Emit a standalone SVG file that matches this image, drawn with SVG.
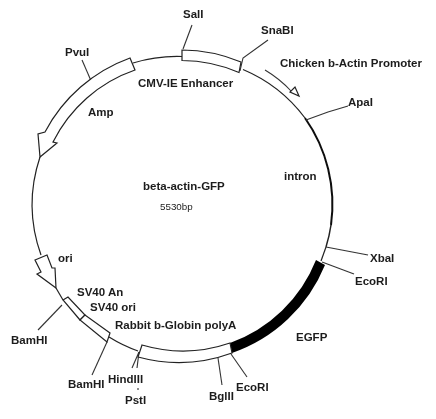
<svg xmlns="http://www.w3.org/2000/svg" width="436" height="419" viewBox="0 0 436 419">
<style>
text{font-family:"Liberation Sans",Arial,sans-serif;font-size:11.5px;font-weight:bold;fill:#1c1c1c}
.l{fill:none;stroke:#333;stroke-width:1.1}
.b{fill:#fff;stroke:#222;stroke-width:1.2;stroke-linejoin:miter}
.c{fill:none;stroke:#222;stroke-width:1.2}
</style>
<defs><filter id="soft" x="0" y="0" width="100%" height="100%"><feGaussianBlur stdDeviation="0.3"/></filter></defs>
<rect width="436" height="419" fill="#fff"/>
<g filter="url(#soft)">
<g id="backbone">
<path class="c" d="M133 63A150 150 0 0 1 182 56.500"/>
<path class="c" d="M243 69.500A150 150 0 0 1 305 118"/>
<path d="M305 118A150 150 0 0 1 331 225" fill="none" stroke="#111" stroke-width="2"/>
<path d="M331 225A150 150 0 0 1 326 247" fill="none" stroke="#222" stroke-width="1.5"/>
<path class="c" d="M326 247L321 261"/>
<path class="c" d="M138 351A150 150 0 0 1 109 337"/>
<path class="c" d="M63 300L56 288"/>
<path class="c" d="M40 157A150 150 0 0 0 41 255"/>
</g>
<g id="connectors">
<path class="l" d="M82 60L92 83"/>
<path class="l" d="M192 25L183 49"/>
<path class="l" d="M268 40L243 58L240 71"/>
<path class="l" d="M348 106L328 112L306 120"/>
<path class="l" d="M368 255L326 247"/>
<path class="l" d="M354 274L322 262"/>
<path class="l" d="M247 377L231 354"/>
<path class="l" d="M222 385L218 358"/>
<path class="l" d="M132 368L139 352"/>
<path class="l" d="M137 368L139 352"/>
<path class="l" d="M138 388V390"/>
<path class="l" d="M38 330L62 305"/>
<path class="l" d="M92 375L107 342"/>
</g>
<g id="Amp"><path class="b" d="M130 58L135 70A144 144 0 0 0 53 142L57 143L40 157L38 134L45 132A156 156 0 0 1 130 58Z"/><text x="88" y="116">Amp</text></g>
<g id="CMV-IE-Enhancer"><path class="b" d="M182 50A156 156 0 0 1 241 62L239 72.500A146 146 0 0 0 182 60.500Z"/><text x="138" y="87">CMV-IE Enhancer</text></g>
<g id="Chicken-b-Actin-Promoter"><path class="l" d="M265 70Q280 79 291 91"/><path class="b" d="M299 96L295 87L290 92Z"/><text x="280" y="67">Chicken b-Actin Promoter</text></g>
<g id="intron"><text x="284" y="180">intron</text></g>
<g id="EGFP"><path d="M316 260L325 265A155 155 0 0 1 232 353L230 343A145 145 0 0 0 316 260Z" fill="#000"/><text x="296" y="341">EGFP</text></g>
<g id="Rabbit-b-Globin-polyA"><path class="b" d="M142 345A145 145 0 0 0 230 343L232 353A155 155 0 0 1 138 357Z"/><text x="115" y="329">Rabbit b-Globin polyA</text></g>
<g id="SV40-An"><path class="b" d="M63 300L68 297L85 315L80 320Z"/><text x="77" y="296">SV40 An</text></g>
<g id="SV40-ori"><path class="b" d="M80 320L85 315L110 333L107 342Z"/><text x="90" y="311">SV40 ori</text></g>
<g id="ori"><path class="b" d="M56 288L37 274L41 272L35 260L47 255L52 268L55 268Z"/><text x="58" y="262">ori</text></g>
<g id="center"><text x="143" y="190">beta-actin-GFP</text><text x="160" y="210" style="font-weight:normal;font-size:9.8px">5530bp</text></g>
<g id="SalI"><text x="183" y="18">SalI</text></g>
<g id="SnaBI"><text x="261" y="34">SnaBI</text></g>
<g id="PvuI"><text x="65" y="56">PvuI</text></g>
<g id="ApaI"><text x="348" y="106">ApaI</text></g>
<g id="XbaI"><text x="370" y="262">XbaI</text></g>
<g id="EcoRI-1"><text x="355" y="285">EcoRI</text></g>
<g id="EcoRI-2"><text x="236" y="391">EcoRI</text></g>
<g id="BglII"><text x="209" y="400">BglII</text></g>
<g id="HindIII"><text x="108" y="383">HindIII</text></g>
<g id="PstI"><text x="125" y="404">PstI</text></g>
<g id="BamHI-1"><text x="11" y="344">BamHI</text></g>
<g id="BamHI-2"><text x="68" y="388">BamHI</text></g>
</g>
</svg>
